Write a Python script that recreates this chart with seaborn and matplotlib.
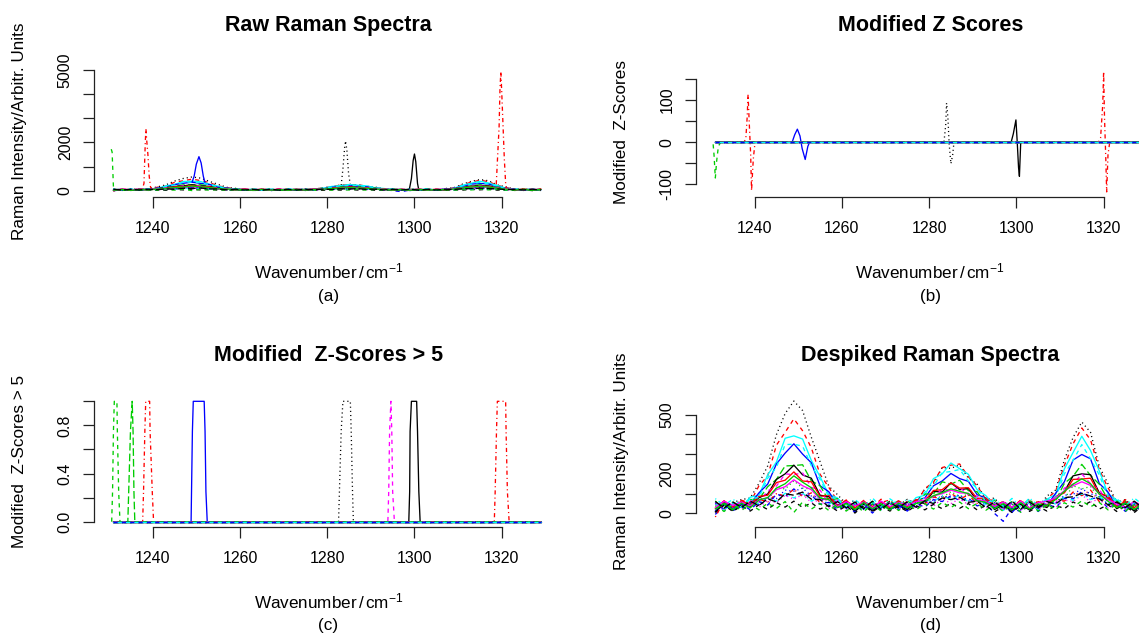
import matplotlib
matplotlib.use("Agg")
import matplotlib.pyplot as plt
import seaborn as sns

sns.set_style("ticks")
plt.rcParams['font.family'] = ['Liberation Sans', 'DejaVu Sans']
plt.rcParams['mathtext.fontset'] = 'custom'
plt.rcParams['mathtext.rm'] = 'Liberation Sans'
plt.rcParams['mathtext.it'] = 'Liberation Sans:italic'
plt.rcParams['lines.scale_dashes'] = False
for k in ['text.color', 'axes.labelcolor', 'xtick.color', 'ytick.color']:
    plt.rcParams[k] = 'black'

# wavenumber grid of the spectra (cm-1)
wavenumber = list(range(1231, 1330, 2))

# despiked spectra
spec01 = [62, 28, 55, 70, 78, 152, 240, 398, 505, 568, 520, 385, 262, 138, 95, 48, 66, 30, 58, 24, 63, 40,
          71, 52, 124, 150, 232, 228, 245, 178, 148, 70, 78, 25, 60, 38, 72, 30, 88, 118, 270, 384, 462, 410,
          238, 150, 55, 70, 28, 64]
spec02 = [30, 58, 20, 66, 55, 140, 190, 345, 410, 478, 418, 332, 198, 132, 62, 64, 22, 60, 18, 55, 68, 25,
          62, 48, 125, 158, 232, 244, 250, 185, 140, 70, 66, 20, 58, 26, 62, 15, 75, 112, 242, 352, 432, 372,
          222, 130, 50, 58, 24, 52]
spec03 = [55, 18, 50, 30, 82, 92, 195, 260, 380, 392, 376, 268, 186, 96, 78, 30, 52, 22, 60, 28, 50, 62,
          30, 80, 92, 176, 200, 255, 226, 198, 120, 90, 40, 58, 22, 48, 60, 20, 72, 96, 225, 308, 390, 318,
          215, 100, 68, 22, 56, 30]
spec04 = [12, 55, 25, 58, 48, 104, 148, 250, 305, 352, 300, 256, 140, 110, 42, 60, 15, 52, 20, 56, 18, 48,
          22, 68, 78, 140, 164, 202, 176, 162, 95, 78, 30, 44, 5, 52, 18, 45, 38, 102, 160, 270, 298, 276,
          152, 108, 34, 54, 15, 50]
spec05 = [62, 24, 58, 35, 70, 72, 135, 172, 240, 242, 246, 165, 140, 66, 75, 30, 55, 30, 60, 22, 65, 28,
          62, 40, 98, 98, 160, 148, 168, 115, 110, 48, 66, 25, 60, 20, 66, 30, 68, 65, 152, 188, 248, 192,
          148, 70, 64, 28, 60, 32]
spec06 = [8, 48, 15, 45, 35, 80, 98, 172, 200, 244, 195, 178, 92, 85, 30, 52, 10, 48, 12, 45, 22, 40,
          18, 60, 50, 112, 108, 155, 120, 126, 62, 68, 20, 42, 15, 46, 18, 44, 30, 80, 110, 190, 200, 196,
          104, 84, 24, 48, 12, 50]
spec07 = [55, 18, 50, 28, 62, 58, 114, 138, 200, 196, 205, 132, 118, 52, 68, 22, 50, 25, 46, 20, 56, 18,
          52, 36, 78, 80, 124, 115, 132, 92, 88, 42, 56, 20, 52, 16, 58, 22, 60, 52, 128, 148, 200, 150,
          122, 56, 60, 22, 48, 20]
spec08 = [25, 64, 32, 62, 44, 86, 92, 156, 168, 210, 164, 160, 86, 92, 40, 66, 28, 62, 36, 58, 30, 64,
          36, 70, 64, 116, 120, 155, 128, 130, 76, 78, 38, 58, 30, 64, 24, 60, 40, 86, 104, 172, 174, 178,
          98, 90, 35, 62, 28, 66]
spec09 = [50, 15, 48, 22, 76, 80, 178, 232, 348, 350, 340, 242, 172, 84, 72, 25, 48, 16, 52, 18, 55, 22,
          55, 46, 108, 138, 206, 212, 222, 164, 128, 58, 62, 15, 50, 20, 54, 18, 68, 80, 200, 268, 348, 276,
          195, 84, 64, 20, 52, 18]
spec10 = [28, 58, 22, 60, 32, 78, 66, 130, 124, 165, 128, 124, 72, 74, 36, 58, 20, 62, 28, 52, 25, 60,
          28, 62, 48, 88, 80, 110, 86, 96, 54, 66, 28, 58, 22, 60, 18, 55, 30, 76, 74, 140, 124, 136,
          78, 74, 30, 60, 20, 58]
spec11 = [-5, 45, 12, 48, 18, 60, 42, 98, 84, 124, 88, 94, 46, 56, 20, 45, 5, 48, 2, 44, 20, 40,
          12, 50, 32, 70, 60, 90, 64, 78, 38, 52, 0, -40, 28, 8, 45, 10, 48, 30, 76, 74, 110, 74,
          80, 26, 50, 10, 40, 8]
spec12 = [52, 14, 48, 22, 54, 30, 66, 54, 92, 72, 95, 56, 68, 25, 52, 18, 48, 20, 50, 15, 55, 22,
          50, 24, 60, 36, 76, 50, 74, 44, 60, 26, 52, 18, 50, 12, 55, 20, 52, 30, 68, 60, 94, 58,
          72, 28, 52, 20, 48, 16]
spec13 = [5, 42, 10, 38, 12, 44, 20, 55, 32, 62, 30, 54, 22, 42, 12, 38, 2, 40, 8, 38, 12, 36,
          10, 40, 18, 46, 24, 52, 26, 50, 18, 40, 8, 35, 5, 40, 10, 36, 12, 42, 24, 58, 36, 60,
          22, 44, 10, 38, 4, 40]
spec14 = [-18, 62, 38, 66, 40, 72, 58, 100, 88, 122, 84, 104, 54, 76, 36, 68, 30, 66, 32, 72, 28, 64,
          36, 68, 48, 84, 70, 102, 72, 94, 50, 72, 34, 62, 30, 68, 26, 64, 36, 74, 62, 108, 90, 118,
          60, 80, 32, 70, 30, 72]
spec15 = [40, 10, 44, 15, 48, 18, 52, 25, 60, 5, 58, 22, 50, 15, 46, 12, 44, 8, 48, 12, 50, 15,
          46, 18, 50, 22, 56, 30, 58, 24, 52, 16, 45, 10, 48, 6, 50, 12, 46, 20, 54, 32, 64, 34,
          56, 18, 46, 12, 44, 8]
spec16 = [75, 40, 72, 42, 76, 46, 84, 62, 102, 78, 104, 62, 86, 44, 74, 38, 70, 36, 78, 34, 74, 44,
          72, 42, 80, 56, 92, 66, 95, 58, 82, 44, 72, 36, 76, 32, 78, 40, 74, 46, 86, 66, 100, 70,
          88, 48, 74, 40, 78, 44]
spec17 = [30, 62, 40, 58, 38, 70, 78, 120, 135, 170, 140, 120, 72, 70, 35, 60, 38, 58, 30, 62, 35, 55,
          40, 60, 66, 88, 100, 118, 104, 102, 70, 62, 36, 58, 32, 62, 28, 55, 62, 78, 115, 140, 160, 142,
          100, 70, 48, 32, 60, 38]
spec18 = [50, 22, 55, 25, 55, 44, 78, 75, 118, 112, 128, 88, 80, 40, 58, 25, 55, 20, 50, 28, 58, 24,
          52, 30, 62, 58, 86, 80, 92, 64, 66, 32, 55, 22, 56, 18, 52, 26, 55, 50, 92, 96, 125, 98,
          90, 45, 54, 25, 50, 22]
spec19 = [22, 50, 18, 52, 28, 68, 80, 128, 150, 190, 158, 130, 78, 70, 30, 50, 20, 55, 24, 48, 18, 52,
          28, 50, 62, 90, 105, 124, 112, 100, 64, 56, 24, 50, 18, 54, 22, 48, 40, 70, 112, 148, 175, 150,
          98, 62, 30, 52, 20, 48]
spec20 = [60, 28, 58, 30, 62, 40, 74, 58, 100, 92, 108, 72, 70, 34, 60, 28, 58, 24, 62, 20, 55, 30,
          58, 32, 64, 50, 78, 70, 82, 56, 62, 30, 58, 26, 62, 22, 58, 28, 60, 48, 80, 84, 102, 88,
          74, 44, 58, 30, 62, 26]

# cosmic-ray spikes in the raw spectra, panel (a)
spike15_x = [1230.5, 1230.7, 1231.0, 1231.4]
spike15_y = [1720, 1600, 150, 30]
spike14a_x = [1237.6, 1238.0, 1238.3, 1238.45, 1238.6, 1238.9, 1239.2, 1239.5, 1239.9]
spike14a_y = [49, 300, 2000, 2560, 2150, 1500, 600, 150, 55]
spike04_x = [1249.0, 1249.5, 1250.0, 1250.6, 1251.1, 1251.6, 1252.0]
spike04_y = [340, 600, 1100, 1410, 1150, 600, 320]
spike01_x = [1283.2, 1283.6, 1284.0, 1284.2, 1284.5, 1284.9, 1285.3]
spike01_y = [225, 900, 1800, 2060, 1700, 700, 240]
spike06_x = [1298.8, 1299.3, 1299.7, 1300.0, 1300.3, 1300.7, 1301.0]
spike06_y = [33, 500, 1250, 1520, 1200, 300, 28]
spike14b_x = [1318.7, 1319.0, 1319.4, 1319.6, 1319.8, 1320.0, 1320.3, 1320.6, 1320.9, 1321.1]
spike14b_y = [90, 1200, 2650, 4200, 4940, 4100, 2700, 1300, 300, 65]

# modified z scores, panel (b)
zero_x = [1231, 1329]
zero_y = [0, 0]
z15_x = [1230.5, 1230.7, 1231.0, 1231.3, 1231.7, 1232.2, 1329]
z15_y = [-5, -30, -85, -45, -10, 0, 0]
z14_x = [1231, 1237.6, 1238.0, 1238.3, 1238.5, 1238.8, 1239.1, 1239.3, 1239.7, 1240.1,
         1318.8, 1319.3, 1319.8, 1320.0, 1320.2, 1320.5, 1320.7, 1321.0, 1321.4, 1329]
z14_y = [0, 0, 10, 60, 113, 40, -30, -115, -40, 0, 0, 10, 90, 168, 60, -40, -118, -30, 0, 0]
z04_x = [1231, 1248.6, 1249.2, 1249.8, 1250.4, 1250.9, 1251.6, 1252.2, 1252.6, 1329]
z04_y = [0, 0, 18, 31, 15, -15, -41, -10, 0, 0]
z01_x = [1231, 1283.4, 1283.8, 1284.0, 1284.3, 1284.6, 1285.0, 1285.4, 1285.7, 1329]
z01_y = [0, 0, 40, 93, 60, -5, -51, -30, 0, 0]
z06_x = [1231, 1298.8, 1299.3, 1299.9, 1300.2, 1300.5, 1300.7, 1301.0, 1329]
z06_y = [0, 0, 20, 53, 0, -60, -81, 0, 0]

# modified z scores > 5, panel (c)
f15_x = [1230.6, 1230.8, 1231.0, 1231.2, 1231.8, 1231.9, 1232.2, 1232.5, 1329]
f15_y = [0, 0.25, 0.75, 1, 1, 0.75, 0.25, 0, 0]
f05_x = [1231, 1234.3, 1234.5, 1234.9, 1235.3, 1235.5, 1235.7, 1235.9, 1329]
f05_y = [0, 0, 0.25, 0.75, 1, 0.75, 0.25, 0, 0]
f14_x = [1231, 1237.7, 1237.9, 1238.2, 1238.4, 1239.3, 1239.4, 1239.9, 1240.2,
         1318.3, 1318.5, 1318.8, 1319.0, 1320.9, 1321.0, 1321.3, 1321.7, 1329]
f14_y = [0, 0, 0.25, 0.75, 1, 1, 0.75, 0.25, 0, 0, 0.25, 0.75, 1, 1, 0.75, 0.25, 0, 0]
f04_x = [1231, 1248.8, 1248.9, 1249.1, 1249.3, 1251.8, 1252.0, 1252.2, 1252.5, 1329]
f04_y = [0, 0, 0.25, 0.75, 1, 1, 0.75, 0.25, 0, 0]
f01_x = [1231, 1282.6, 1282.8, 1283.2, 1283.6, 1285.3, 1285.5, 1285.8, 1286.0, 1329]
f01_y = [0, 0, 0.25, 0.75, 1, 1, 0.75, 0.25, 0, 0]
f07_x = [1231, 1293.9, 1294.1, 1294.3, 1294.6, 1294.8, 1295.0, 1295.4, 1329]
f07_y = [0, 0, 0.25, 0.75, 1, 0.75, 0.25, 0, 0]
f06_x = [1231, 1298.7, 1298.9, 1299.0, 1299.3, 1300.5, 1300.7, 1301.0, 1301.3, 1329]
f06_y = [0, 0, 0.25, 0.75, 1, 1, 0.75, 0.25, 0, 0]

# R palette and line types
BLACK, RED, GREEN, BLUE, CYAN, MAGENTA = '#000000', '#FF0000', '#00CD00', '#0000FF', '#00FFFF', '#FF00FF'
SOLID = '-'
DASHED = (0, (3.0, 3.0))
DOTTED = (0, (0.8, 2.2))
DOTDASH = (0, (0.8, 2.2, 3.0, 2.2))
LONGDASH = (0, (5.5, 2.2))

spectra = [
    (spec01, BLACK, DOTTED), (spec02, RED, DASHED), (spec03, CYAN, SOLID), (spec04, BLUE, SOLID),
    (spec05, GREEN, LONGDASH), (spec06, BLACK, SOLID), (spec07, MAGENTA, DASHED), (spec08, RED, SOLID),
    (spec09, CYAN, DASHED), (spec10, GREEN, DOTTED), (spec11, BLUE, DASHED), (spec12, MAGENTA, DOTTED),
    (spec13, BLACK, DASHED), (spec14, RED, DOTDASH), (spec15, GREEN, DASHED), (spec16, CYAN, DOTDASH),
    (spec17, MAGENTA, SOLID), (spec18, BLUE, DOTTED), (spec19, GREEN, SOLID), (spec20, BLACK, LONGDASH),
]
spikes = {1: [(spike01_x, spike01_y)], 4: [(spike04_x, spike04_y)], 6: [(spike06_x, spike06_y)],
          14: [(spike14a_x, spike14a_y), (spike14b_x, spike14b_y)], 15: [(spike15_x, spike15_y)]}
zscores = {1: (z01_x, z01_y), 4: (z04_x, z04_y), 6: (z06_x, z06_y), 14: (z14_x, z14_y), 15: (z15_x, z15_y)}
flags = {1: (f01_x, f01_y), 4: (f04_x, f04_y), 5: (f05_x, f05_y), 6: (f06_x, f06_y),
         7: (f07_x, f07_y), 14: (f14_x, f14_y), 15: (f15_x, f15_y)}
# cyan solid and blue dashed end up on top of the zero line in (b) and (c)
flat_order = [i for i in range(1, 21) if i not in (3, 11)] + [3, 11]

XLAB = r'Wavenumber$\,/\,$cm$^{-1}$'


def draw(ax, x, y, col, ls):
    sns.lineplot(x=x, y=y, ax=ax, color=col, linestyle=ls, linewidth=0.95,
                 sort=False, estimator=None)


def r_axes(ax, ylim, yticks, ylabels, title, ylab, tag):
    ax.set_xlim(1226.5, 1334)
    ax.set_ylim(*ylim)
    ax.spines['top'].set_visible(False)
    ax.spines['right'].set_visible(False)
    for s in ['left', 'bottom']:
        ax.spines[s].set_linewidth(0.9)
        ax.spines[s].set_color('#222222')
    ax.spines['bottom'].set_bounds(1240, 1320)
    ax.spines['left'].set_bounds(yticks[0], yticks[-1])
    ax.set_xticks([1240, 1260, 1280, 1300, 1320])
    ax.set_yticks(yticks, ylabels, rotation=90, va='center')
    ax.tick_params(axis='both', direction='out', length=8.2, width=0.9, color='#222222', labelsize=11.5)
    ax.tick_params(axis='x', pad=9.4)
    ax.tick_params(axis='y', pad=6.9)
    ax.set_xlabel('')
    ax.set_ylabel('')
    ax.annotate(title, (0.5, 1), xycoords='axes fraction', xytext=(0, 29.4), textcoords='offset points',
                ha='center', va='center', fontsize=15.5, fontweight='bold')
    ax.annotate(XLAB, (0.5, 0), xycoords='axes fraction', xytext=(0, -54), textcoords='offset points',
                ha='center', va='center', fontsize=12.3)
    ax.annotate(tag, (0.5, 0), xycoords='axes fraction', xytext=(0, -71.5), textcoords='offset points',
                ha='center', va='center', fontsize=12.3)
    ax.annotate(ylab, (0, 0.5), xycoords='axes fraction', xytext=(-53.3, 0), textcoords='offset points',
                ha='center', va='center', rotation=90, fontsize=12.3)


fig = plt.figure(figsize=(11.39, 6.34), dpi=100)
AX_W, AX_H = 469 / 1139, 130 / 634
LEFT1, LEFT2 = 93.8 / 1139, 695.7 / 1139
ROW1, ROW2 = (634 - 196.7) / 634, (634 - 526.5) / 634

# (a) raw spectra
ax_a = fig.add_axes([LEFT1, ROW1, AX_W, AX_H])
for i, (y, col, ls) in enumerate(spectra, start=1):
    draw(ax_a, wavenumber, y, col, ls)
    for sx, sy in spikes.get(i, []):
        draw(ax_a, sx, sy, col, ls)
r_axes(ax_a, (-250, 5140), [0, 1000, 2000, 3000, 4000, 5000], ['0', '', '2000', '', '', '5000'],
       'Raw Raman Spectra', 'Raman Intensity/Arbitr. Units', '(a)')

# (b) modified z scores
ax_b = fig.add_axes([LEFT2, ROW1, AX_W, AX_H])
for i in flat_order:
    y, col, ls = spectra[i - 1]
    zx, zy = zscores.get(i, (zero_x, zero_y))
    draw(ax_b, zx, zy, col, ls)
r_axes(ax_b, (-129.4, 179.4), [-100, -50, 0, 50, 100, 150], ['-100', '', '0', '', '100', ''],
       'Modified Z Scores', 'Modified  Z-Scores', '(b)')

# (c) flagged points
ax_c = fig.add_axes([LEFT1, ROW2, AX_W, AX_H])
for i in flat_order:
    y, col, ls = spectra[i - 1]
    fx, fy = flags.get(i, (zero_x, zero_y))
    draw(ax_c, fx, fy, col, ls)
r_axes(ax_c, (-0.04, 1.04), [0, 0.2, 0.4, 0.6, 0.8, 1.0], ['0.0', '', '0.4', '', '0.8', ''],
       'Modified  Z-Scores > 5', 'Modified  Z-Scores > 5', '(c)')

# (d) despiked spectra
ax_d = fig.add_axes([LEFT2, ROW2, AX_W, AX_H])
for y, col, ls in spectra:
    draw(ax_d, wavenumber, y, col, ls)
r_axes(ax_d, (-66, 591), [0, 100, 200, 300, 400, 500], ['0', '', '200', '', '', '500'],
       'Despiked Raman Spectra', 'Raman Intensity/Arbitr. Units', '(d)')

fig.savefig('out.png', dpi=100)
